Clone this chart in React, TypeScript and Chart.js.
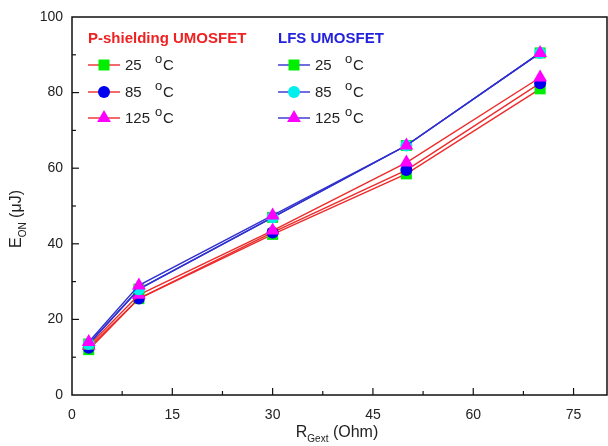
import React, { useEffect, useRef } from "react";
import { Chart, registerables } from "chart.js";

Chart.register(...registerables);

const xValues = [2.5, 10, 30, 50, 70];
const ps25 = [12, 25.5, 42.5, 58.5, 81];
const ps85 = [12.5, 25.5, 43, 59.5, 82.5];
const ps125 = [13, 26.5, 43.5, 61.5, 84];
const lfs25 = [13.5, 28, 47, 66, 90.5];
const lfs85 = [13.5, 28, 47, 66, 90.5];
const lfs125 = [14, 29, 47.5, 66, 90.5];

const xTicks = [0, 15, 30, 45, 60, 75];
const yTicks = [0, 20, 40, 60, 80, 100];

const RED = "#ee2a2a";
const BLUE = "#3030d0";
const GREEN = "#00ee00";
const DBLUE = "#0000ee";
const CYAN = "#00eeee";
const MAGENTA = "#ff00ff";
const FONT = "'Liberation Sans', Arial, sans-serif";

function mk(label: string, ys: number[], line: string, fill: string, style: string, radius: number, order: number) {
  return {
    label,
    data: xValues.map((x, i) => ({ x, y: ys[i] })),
    borderColor: line,
    borderWidth: 1.4,
    backgroundColor: fill,
    pointBackgroundColor: fill,
    pointBorderColor: fill,
    pointBorderWidth: 0,
    pointStyle: style,
    pointRadius: radius,
    showLine: true,
    order,
  };
}

function drawMarker(ctx: CanvasRenderingContext2D, style: string, x: number, y: number, color: string) {
  ctx.save();
  ctx.fillStyle = color;
  ctx.beginPath();
  if (style === "rect") {
    ctx.rect(x - 5.5, y - 5.5, 11, 11);
  } else if (style === "circle") {
    ctx.arc(x, y, 6, 0, Math.PI * 2);
  } else {
    const r = 8;
    ctx.moveTo(x, y - r);
    ctx.lineTo(x + r * 0.866, y + r * 0.5);
    ctx.lineTo(x - r * 0.866, y + r * 0.5);
    ctx.closePath();
  }
  ctx.fill();
  ctx.restore();
}

const decorPlugin = {
  id: "decor",
  afterDatasetsDraw(chart: any) {
    const ctx: CanvasRenderingContext2D = chart.ctx;
    const { left, right, top, bottom } = chart.chartArea;
    const xs = chart.scales.x;
    const ys = chart.scales.y;
    ctx.save();
    ctx.strokeStyle = "#111";
    ctx.lineWidth = 1.5;
    ctx.strokeRect(left, top, right - left, bottom - top);
    ctx.lineWidth = 1.2;
    for (let v = 0; v <= 80; v += 7.5) {
      const px = xs.getPixelForValue(v);
      if (px <= left + 1 || px >= right - 1) continue;
      const major = Math.abs(v / 15 - Math.round(v / 15)) < 1e-6;
      const len = major ? 7 : 4;
      ctx.beginPath();
      ctx.moveTo(px, bottom);
      ctx.lineTo(px, bottom - len);
      ctx.stroke();
    }
    for (let v = 0; v <= 100; v += 10) {
      const py = ys.getPixelForValue(v);
      if (py <= top + 1 || py >= bottom - 1) continue;
      const major = v % 20 === 0;
      const len = major ? 7 : 4;
      ctx.beginPath();
      ctx.moveTo(left, py);
      ctx.lineTo(left + len, py);
      ctx.stroke();
    }

    // legend
    ctx.textBaseline = "middle";
    ctx.textAlign = "left";
    ctx.font = `bold 15px ${FONT}`;
    ctx.fillStyle = "#ee2222";
    ctx.fillText("P-shielding UMOSFET", 88, 39);
    ctx.fillStyle = "#2222dd";
    ctx.fillText("LFS UMOSFET", 278, 39);

    const rows = [
      { t: "25", y: 65, s: "rect", cl: GREEN, cr: GREEN },
      { t: "85", y: 92, s: "circle", cl: DBLUE, cr: CYAN },
      { t: "125", y: 118, s: "triangle", cl: MAGENTA, cr: MAGENTA },
    ];
    const groups = [
      { x0: 88, line: RED, key: "cl", tx: 125, ox: 155 },
      { x0: 278, line: BLUE, key: "cr", tx: 315, ox: 345 },
    ];
    for (const g of groups) {
      for (const r of rows) {
        ctx.strokeStyle = g.line;
        ctx.lineWidth = 1.4;
        ctx.beginPath();
        ctx.moveTo(g.x0, r.y);
        ctx.lineTo(g.x0 + 32, r.y);
        ctx.stroke();
        drawMarker(ctx, r.s, g.x0 + 16, r.y, (r as any)[g.key]);
        ctx.fillStyle = "#222";
        ctx.font = `15px ${FONT}`;
        ctx.fillText(r.t, g.tx, r.y + 1);
        ctx.font = `13px ${FONT}`;
        ctx.fillText("o", g.ox, r.y - 6);
        ctx.font = `15px ${FONT}`;
        ctx.fillText("C", g.ox + 8, r.y + 1);
      }
    }

    // axis titles
    ctx.fillStyle = "#222";
    const xc = 337;
    const xy = 433;
    ctx.font = `16px ${FONT}`;
    const wR = ctx.measureText("R").width;
    ctx.font = `10px ${FONT}`;
    const wG = ctx.measureText("Gext").width;
    ctx.font = `16px ${FONT}`;
    const wO = ctx.measureText(" (Ohm)").width;
    const sx = xc - (wR + wG + wO) / 2;
    ctx.fillText("R", sx, xy);
    ctx.font = `10px ${FONT}`;
    ctx.fillText("Gext", sx + wR, xy + 6);
    ctx.font = `16px ${FONT}`;
    ctx.fillText(" (Ohm)", sx + wR + wG, xy);

    ctx.save();
    ctx.translate(17, 219);
    ctx.rotate(-Math.PI / 2);
    ctx.font = `16px ${FONT}`;
    const wE = ctx.measureText("E").width;
    ctx.font = `10px ${FONT}`;
    const wON = ctx.measureText("ON").width;
    ctx.font = `16px ${FONT}`;
    const wU = ctx.measureText(" (\u03bcJ)").width;
    const sy = -(wE + wON + wU) / 2;
    ctx.fillText("E", sy, 0);
    ctx.font = `10px ${FONT}`;
    ctx.fillText("ON", sy + wE, 6);
    ctx.font = `16px ${FONT}`;
    ctx.fillText(" (\u03bcJ)", sy + wE + wON, 0);
    ctx.restore();

    ctx.restore();
  },
};

export default function App() {
  const ref = useRef<HTMLCanvasElement>(null);
  useEffect(() => {
    document.body.style.margin = "0";
    const chart = new Chart(ref.current!, {
      type: "scatter",
      data: {
        datasets: [
          mk("PS 25", ps25, RED, GREEN, "rect", 7.8, 6),
          mk("PS 85", ps85, RED, DBLUE, "circle", 6, 5),
          mk("PS 125", ps125, RED, MAGENTA, "triangle", 8, 4),
          mk("LFS 25", lfs25, BLUE, GREEN, "rect", 7.8, 3),
          mk("LFS 85", lfs85, BLUE, CYAN, "circle", 6, 2),
          mk("LFS 125", lfs125, BLUE, MAGENTA, "triangle", 8, 1),
        ] as any,
      },
      options: {
        animation: false,
        responsive: false,
        maintainAspectRatio: false,
        layout: { autoPadding: false, padding: { top: 17, right: 1, left: 0, bottom: 0 } },
        plugins: { legend: { display: false }, tooltip: { enabled: false } },
        scales: {
          x: {
            type: "linear",
            min: 0,
            max: 80,
            grid: { display: false },
            border: { display: false },
            afterBuildTicks: (s: any) => {
              s.ticks = xTicks.map((v) => ({ value: v }));
            },
            afterFit: (s: any) => {
              s.height = 51;
              s.paddingLeft = 0;
              s.paddingRight = 0;
            },
            ticks: { color: "#222", font: { size: 14, family: FONT }, padding: 4, maxRotation: 0 },
          },
          y: {
            type: "linear",
            min: 0,
            max: 100,
            grid: { display: false, drawTicks: false },
            border: { display: false },
            afterBuildTicks: (s: any) => {
              s.ticks = yTicks.map((v) => ({ value: v }));
            },
            afterFit: (s: any) => {
              s.width = 72;
              s.paddingTop = 0;
              s.paddingBottom = 0;
            },
            ticks: { color: "#222", font: { size: 14, family: FONT }, padding: 9 },
          },
        },
      } as any,
      plugins: [decorPlugin],
    });
    return () => chart.destroy();
  }, []);
  return (
    <div style={{ position: "fixed", left: 0, top: 0, width: 608, height: 446, background: "#fff" }}>
      <canvas ref={ref} width={608} height={446} style={{ width: 608, height: 446 }} />
    </div>
  );
}
